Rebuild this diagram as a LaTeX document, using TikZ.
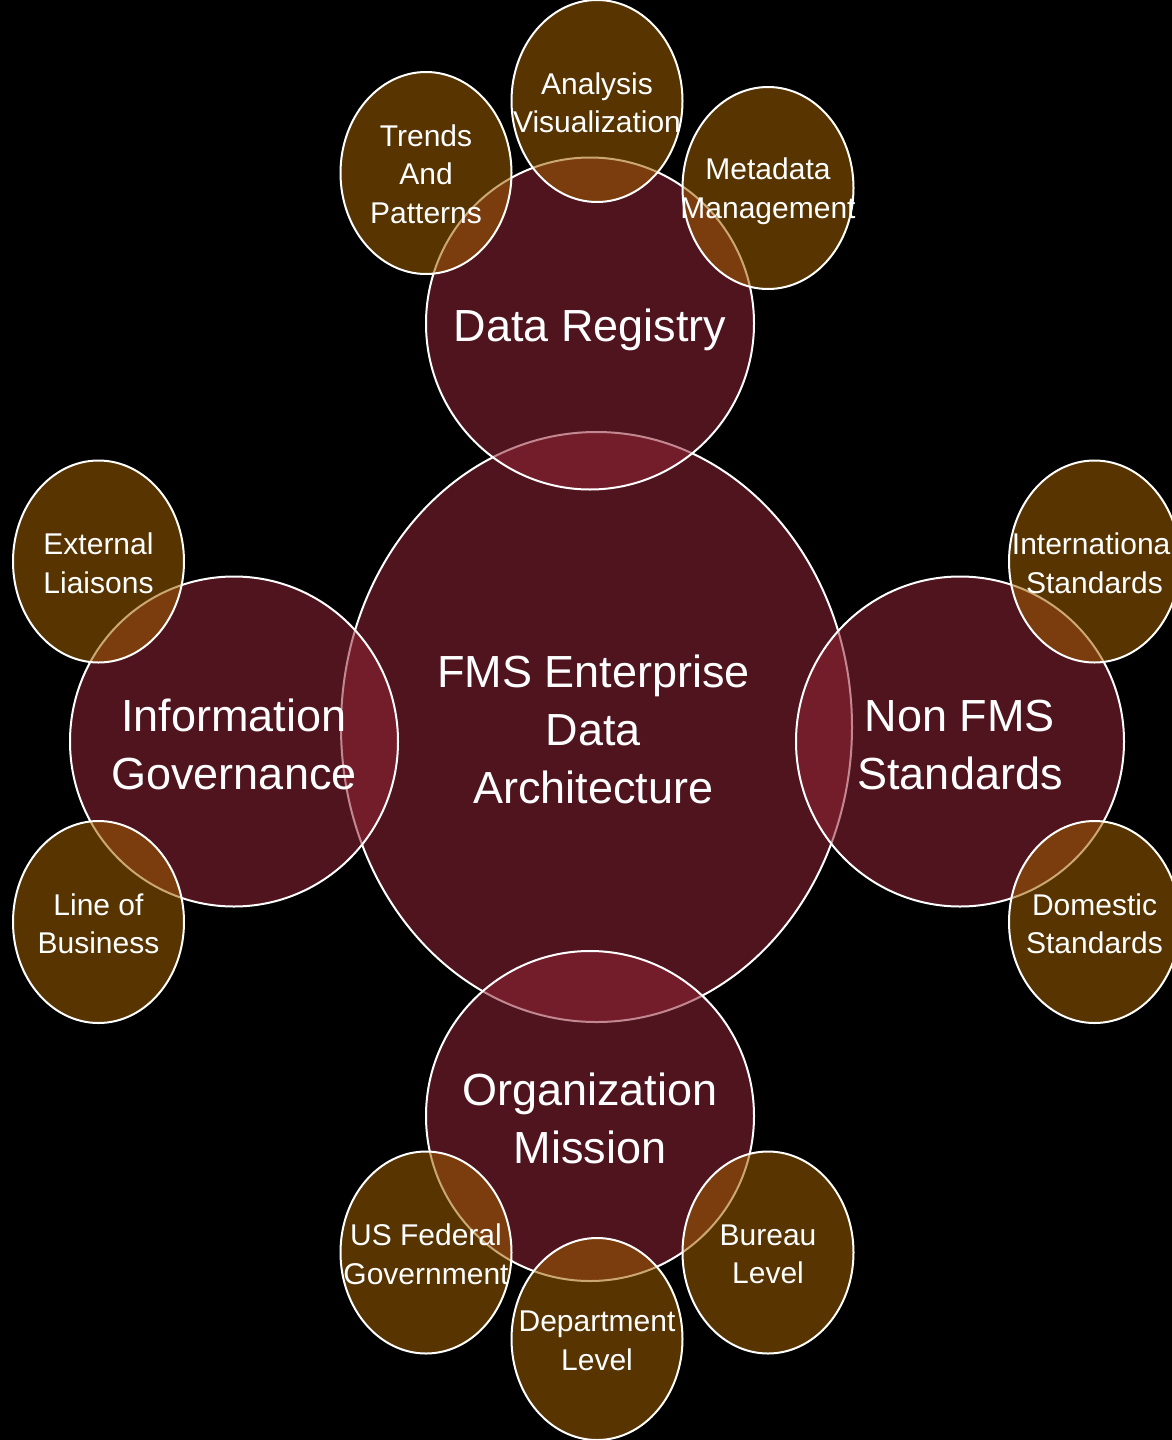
\documentclass[tikz,border=0pt]{standalone}
\usepackage{fontspec}
\setmainfont{Liberation Sans}
\usetikzlibrary{shapes.geometric}
\definecolor{bigred}{RGB}{145,38,55}
\definecolor{smallor}{RGB}{160,96,0}
\begin{document}
\begin{tikzpicture}[x=1pt,y=-1pt,
  shapebase/.style={ellipse, draw=white, line width=2pt, fill opacity=0.55, inner sep=0pt, outer sep=0pt},
  bigc/.style={shapebase, fill=bigred},
  smallc/.style={shapebase, fill=smallor, minimum width=171pt, minimum height=202pt},
  bigtxt/.style={text=white, align=center, inner sep=0pt, font={\fontsize{45}{58}\selectfont}},
  smalltxt/.style={text=white, align=center, inner sep=0pt, font={\fontsize{30}{38.5}\selectfont}}]
\fill[black] (0,0) rectangle (1172,1440);
\useasboundingbox (0,0) rectangle (1172,1440);
% central ellipse
\node[bigc, minimum width=511pt, minimum height=590pt] (core) at (596.5,727) {};
% satellites
\node[bigc, minimum width=328pt, minimum height=332pt] (reg) at (590,323.5) {};
\node[bigc, minimum width=328pt, minimum height=330pt] (gov) at (234,741.5) {};
\node[bigc, minimum width=328pt, minimum height=330pt] (nonfms) at (960,741.5) {};
\node[bigc, minimum width=328pt, minimum height=330pt] (org) at (590,1116) {};
% small ellipses
\node[smallc] (trends) at (426,173) {};
\node[smallc] (analysis) at (597,101) {};
\node[smallc] (meta) at (768,188) {};
\node[smallc] (ext) at (98.5,561.5) {};
\node[smallc] (lob) at (98.5,922) {};
\node[smallc] (intl) at (1094.5,561.5) {};
\node[smallc] (dom) at (1094.5,922) {};
\node[smallc] (usfed) at (426,1252.5) {};
\node[smallc] (dept) at (597,1339) {};
\node[smallc] (bureau) at (768,1252.5) {};
% texts
\node[bigtxt] (coret) at ([xshift=-3pt,yshift=-2pt]core.center) {FMS Enterprise\\Data\\Architecture};
\node[bigtxt] (regt) at ([yshift=-6pt]reg.center) {Data Registry};
\node[bigtxt] (govt) at ([yshift=-3pt]gov.center) {Information\\Governance};
\node[bigtxt] (nonfmst) at ([yshift=-3pt]nonfms.center) {Non FMS\\Standards};
\node[bigtxt] (orgt) at ([yshift=-2pt]org.center) {Organization\\Mission};
\node[smalltxt] (trendst) at ([yshift=-1pt]trends.center) {Trends\\And\\Patterns};
\node[smalltxt] (analysist) at ([yshift=-2pt]analysis.center) {Analysis\\Visualization};
\node[smalltxt] (metat) at ([yshift=-3pt]meta.center) {Metadata\\Management};
\node[smalltxt] (extt) at ([yshift=-2pt]ext.center) {External\\Liaisons};
\node[smalltxt] (lobt) at ([yshift=-2pt]lob.center) {Line of\\Business};
\node[smalltxt] (intlt) at ([yshift=-2pt]intl.center) {International\\Standards};
\node[smalltxt] (domt) at ([yshift=-2pt]dom.center) {Domestic\\Standards};
\node[smalltxt] (usfedt) at ([yshift=-2pt]usfed.center) {US Federal\\Government};
\node[smalltxt] (deptt) at ([yshift=-2pt]dept.center) {Department\\Level};
\node[smalltxt] (bureaut) at ([yshift=-2pt]bureau.center) {Bureau\\Level};
\end{tikzpicture}
\end{document}
